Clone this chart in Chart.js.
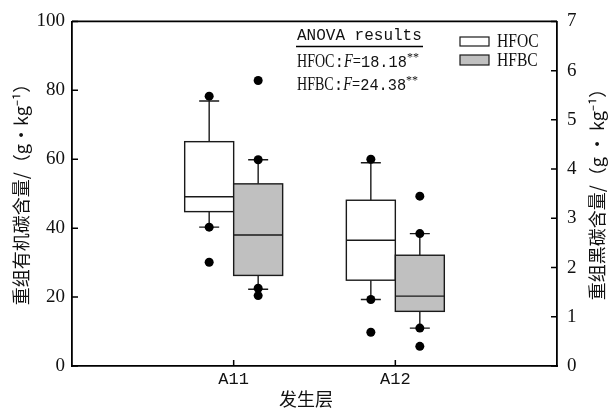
<!DOCTYPE html>
<html>
<head>
<meta charset="utf-8">
<script src="https://cdn.jsdelivr.net/npm/chart.js@4.4.1/dist/chart.umd.min.js"></script>
<style>
html, body { margin: 0; padding: 0; background: #fff; }
#wrap { width: 609px; height: 410px; position: relative; }
</style>
</head>
<body>
<div id="wrap"><canvas id="chart"></canvas></div>
<script>
const categories = ['A11', 'A12'];
const leftTicks = [0, 20, 40, 60, 80, 100];
const rightTicks = [0, 1, 2, 3, 4, 5, 6, 7];

// HFOC, g/kg (left axis)
const hfocLow = [40.3, 19.3];
const hfocQ1 = [44.8, 24.9];
const hfocMedian = [49.1, 36.5];
const hfocQ3 = [65.1, 48.1];
const hfocHigh = [76.9, 59.0];
const hfocPoints = [[78.3, 40.3, 30.1], [60.0, 19.3, 9.8]];

// HFBC, g/kg (right axis)
const hfbcLow = [1.56, 0.77];
const hfbcQ1 = [1.84, 1.11];
const hfbcMedian = [2.66, 1.42];
const hfbcQ3 = [3.70, 2.25];
const hfbcHigh = [4.19, 2.69];
const hfbcPoints = [[5.80, 4.19, 1.58, 1.43], [3.45, 2.69, 0.77, 0.40]];

const anovaF = ['18.18', '24.38'];

const BOX_W = 0.303;   // box width in x-axis units
const CAP = 10;        // half width of whisker caps, px
const GRAY = '#c0c0c0';
const LINE = '#1a1a1a';
const SERIF = '"Liberation Serif", "Times New Roman", serif';
const MONO = '"Liberation Mono", monospace';
const CJK = '"Noto Sans CJK SC", sans-serif';

function pointsFor(groups, side) {
    const pts = [];
    groups.forEach((vals, i) => {
        vals.forEach(v => pts.push({ x: i + 1 + side * BOX_W / 2, y: v }));
    });
    return pts;
}

function drawBox(ctx, xs, ys, i, side, low, q1, med, q3, high, fill) {
    const c = i + 1;
    const x0 = xs.getPixelForValue(side < 0 ? c - BOX_W : c);
    const x1 = xs.getPixelForValue(side < 0 ? c : c + BOX_W);
    const xm = (x0 + x1) / 2;
    const yLow = ys.getPixelForValue(low[i]);
    const yQ1 = ys.getPixelForValue(q1[i]);
    const yMed = ys.getPixelForValue(med[i]);
    const yQ3 = ys.getPixelForValue(q3[i]);
    const yHigh = ys.getPixelForValue(high[i]);

    ctx.strokeStyle = LINE;
    ctx.lineWidth = 1.4;
    ctx.beginPath();
    ctx.moveTo(xm, yHigh); ctx.lineTo(xm, yQ3);
    ctx.moveTo(xm, yQ1); ctx.lineTo(xm, yLow);
    ctx.moveTo(xm - CAP, yHigh); ctx.lineTo(xm + CAP, yHigh);
    ctx.moveTo(xm - CAP, yLow); ctx.lineTo(xm + CAP, yLow);
    ctx.stroke();

    ctx.fillStyle = fill;
    ctx.fillRect(x0, yQ3, x1 - x0, yQ1 - yQ3);
    ctx.strokeRect(x0, yQ3, x1 - x0, yQ1 - yQ3);
    ctx.beginPath();
    ctx.moveTo(x0, yMed); ctx.lineTo(x1, yMed);
    ctx.stroke();
}

// text line built from runs with different fonts; each run can be squeezed horizontally
function drawRuns(ctx, x, y, runs) {
    ctx.save();
    ctx.textBaseline = 'alphabetic';
    ctx.textAlign = 'left';
    let cx = x;
    runs.forEach(r => {
        const sx = r.sx || 1;
        ctx.font = r.font;
        ctx.save();
        ctx.translate(cx, y + (r.dy || 0));
        ctx.scale(sx, 1);
        ctx.fillText(r.t, 0, 0);
        ctx.restore();
        cx += ctx.measureText(r.t).width * sx;
    });
    ctx.restore();
}

const boxPlugin = {
    id: 'boxes',
    beforeDatasetsDraw(chart) {
        const ctx = chart.ctx;
        const xs = chart.scales.x, yl = chart.scales.y, yr = chart.scales.y1;
        ctx.save();
        categories.forEach((c, i) => {
            drawBox(ctx, xs, yl, i, -1, hfocLow, hfocQ1, hfocMedian, hfocQ3, hfocHigh, '#fff');
            drawBox(ctx, xs, yr, i, 1, hfbcLow, hfbcQ1, hfbcMedian, hfbcQ3, hfbcHigh, GRAY);
        });
        ctx.restore();
    },
    afterDraw(chart) {
        const ctx = chart.ctx;
        const a = chart.chartArea;
        const xs = chart.scales.x, yl = chart.scales.y, yr = chart.scales.y1;
        ctx.save();
        ctx.strokeStyle = '#000';
        ctx.lineWidth = 1.8;
        ctx.beginPath();
        ctx.moveTo(a.left, a.top); ctx.lineTo(a.right, a.top);
        ctx.stroke();
        // inward ticks
        ctx.lineWidth = 1.5;
        ctx.beginPath();
        leftTicks.forEach(v => {
            const y = yl.getPixelForValue(v);
            ctx.moveTo(a.left, y); ctx.lineTo(a.left + 6, y);
        });
        rightTicks.forEach(v => {
            const y = yr.getPixelForValue(v);
            ctx.moveTo(a.right - 6, y); ctx.lineTo(a.right, y);
        });
        categories.forEach((c, i) => {
            const x = xs.getPixelForValue(i + 1);
            ctx.moveTo(x, a.bottom); ctx.lineTo(x, a.bottom - 6);
        });
        ctx.stroke();

        // axis titles
        ctx.fillStyle = '#111';
        ctx.textAlign = 'center';
        ctx.textBaseline = 'middle';
        ctx.font = '18px ' + CJK;
        ctx.fillText('发生层', 306, 399);
        ctx.save();
        ctx.translate(21, 190);
        ctx.rotate(-Math.PI / 2);
        ctx.fillText('重组有机碳含量/（g·kg⁻¹）', 0, 0);
        ctx.restore();
        ctx.save();
        ctx.translate(597, 190);
        ctx.rotate(-Math.PI / 2);
        ctx.fillText('重组黑碳含量/（g · kg⁻¹）', 0, 0);
        ctx.restore();

        // ANOVA note
        ctx.textAlign = 'left';
        ctx.textBaseline = 'alphabetic';
        ctx.font = '16px ' + MONO;
        ctx.fillText('ANOVA results', 297, 40);
        ctx.lineWidth = 1.3;
        ctx.beginPath();
        ctx.moveTo(296, 46.5); ctx.lineTo(423, 46.5);
        ctx.stroke();
        ['HFOC', 'HFBC'].forEach((name, k) => {
            drawRuns(ctx, 297, 67 + k * 23, [
                { t: name, font: '18px ' + SERIF, sx: 0.78 },
                { t: ':', font: '16px ' + MONO },
                { t: 'F', font: 'italic 18px ' + SERIF, sx: 0.8 },
                { t: '=', font: '18px ' + SERIF, sx: 0.8 },
                { t: anovaF[k], font: '17px ' + MONO, sx: 0.9 },
                { t: '**', font: '12px ' + SERIF, dy: -6 }
            ]);
        });

        // legend
        ctx.lineWidth = 1.2;
        ctx.strokeStyle = LINE;
        ctx.fillStyle = '#fff';
        ctx.fillRect(460, 37, 29, 9);
        ctx.strokeRect(460, 37, 29, 9);
        ctx.fillStyle = GRAY;
        ctx.fillRect(460, 55, 29, 10);
        ctx.strokeRect(460, 55, 29, 10);
        ctx.fillStyle = '#111';
        drawRuns(ctx, 497, 47, [{ t: 'HFOC', font: '19px ' + SERIF, sx: 0.82 }]);
        drawRuns(ctx, 497, 66, [{ t: 'HFBC', font: '19px ' + SERIF, sx: 0.82 }]);
        ctx.restore();
    }
};

const tickFont = { family: SERIF, size: 19 };

new Chart(document.getElementById('chart'), {
    type: 'scatter',
    data: {
        datasets: [{
            label: 'HFOC',
            data: pointsFor(hfocPoints, -1),
            yAxisID: 'y',
            pointRadius: 4.5,
            pointBackgroundColor: '#000',
            pointBorderColor: '#000',
            pointBorderWidth: 0
        }, {
            label: 'HFBC',
            data: pointsFor(hfbcPoints, 1),
            yAxisID: 'y1',
            pointRadius: 4.5,
            pointBackgroundColor: '#000',
            pointBorderColor: '#000',
            pointBorderWidth: 0
        }]
    },
    options: {
        responsive: true,
        maintainAspectRatio: false,
        animation: false,
        devicePixelRatio: 1,
        layout: { padding: { top: 18, left: 0, right: 0, bottom: 0 } },
        plugins: { legend: { display: false }, tooltip: { enabled: false } },
        scales: {
            x: {
                type: 'linear',
                min: 0,
                max: 3,
                afterBuildTicks: s => { s.ticks = categories.map((c, i) => ({ value: i + 1 })); },
                afterFit: s => { s.height = 44; },
                ticks: {
                    callback: v => categories[v - 1],
                    font: { family: MONO, size: 17 },
                    color: '#111',
                    padding: 3,
                    autoSkip: false,
                    maxRotation: 0
                },
                grid: { drawOnChartArea: false, drawTicks: false },
                border: { display: true, color: '#000', width: 1.8 }
            },
            y: {
                type: 'linear',
                position: 'left',
                min: 0,
                max: 100,
                afterBuildTicks: s => { s.ticks = leftTicks.map(v => ({ value: v })); },
                afterFit: s => { s.width = 72; },
                ticks: { font: tickFont, color: '#111', padding: 7 },
                grid: { drawOnChartArea: false, drawTicks: false },
                border: { display: true, color: '#000', width: 1.8 }
            },
            y1: {
                type: 'linear',
                position: 'right',
                min: 0,
                max: 7,
                afterBuildTicks: s => { s.ticks = rightTicks.map(v => ({ value: v })); },
                afterFit: s => { s.width = 52; },
                ticks: { font: tickFont, color: '#111', padding: 10 },
                grid: { drawOnChartArea: false, drawTicks: false },
                border: { display: true, color: '#000', width: 1.8 }
            }
        }
    },
    plugins: [boxPlugin]
});
</script>
</body>
</html>
